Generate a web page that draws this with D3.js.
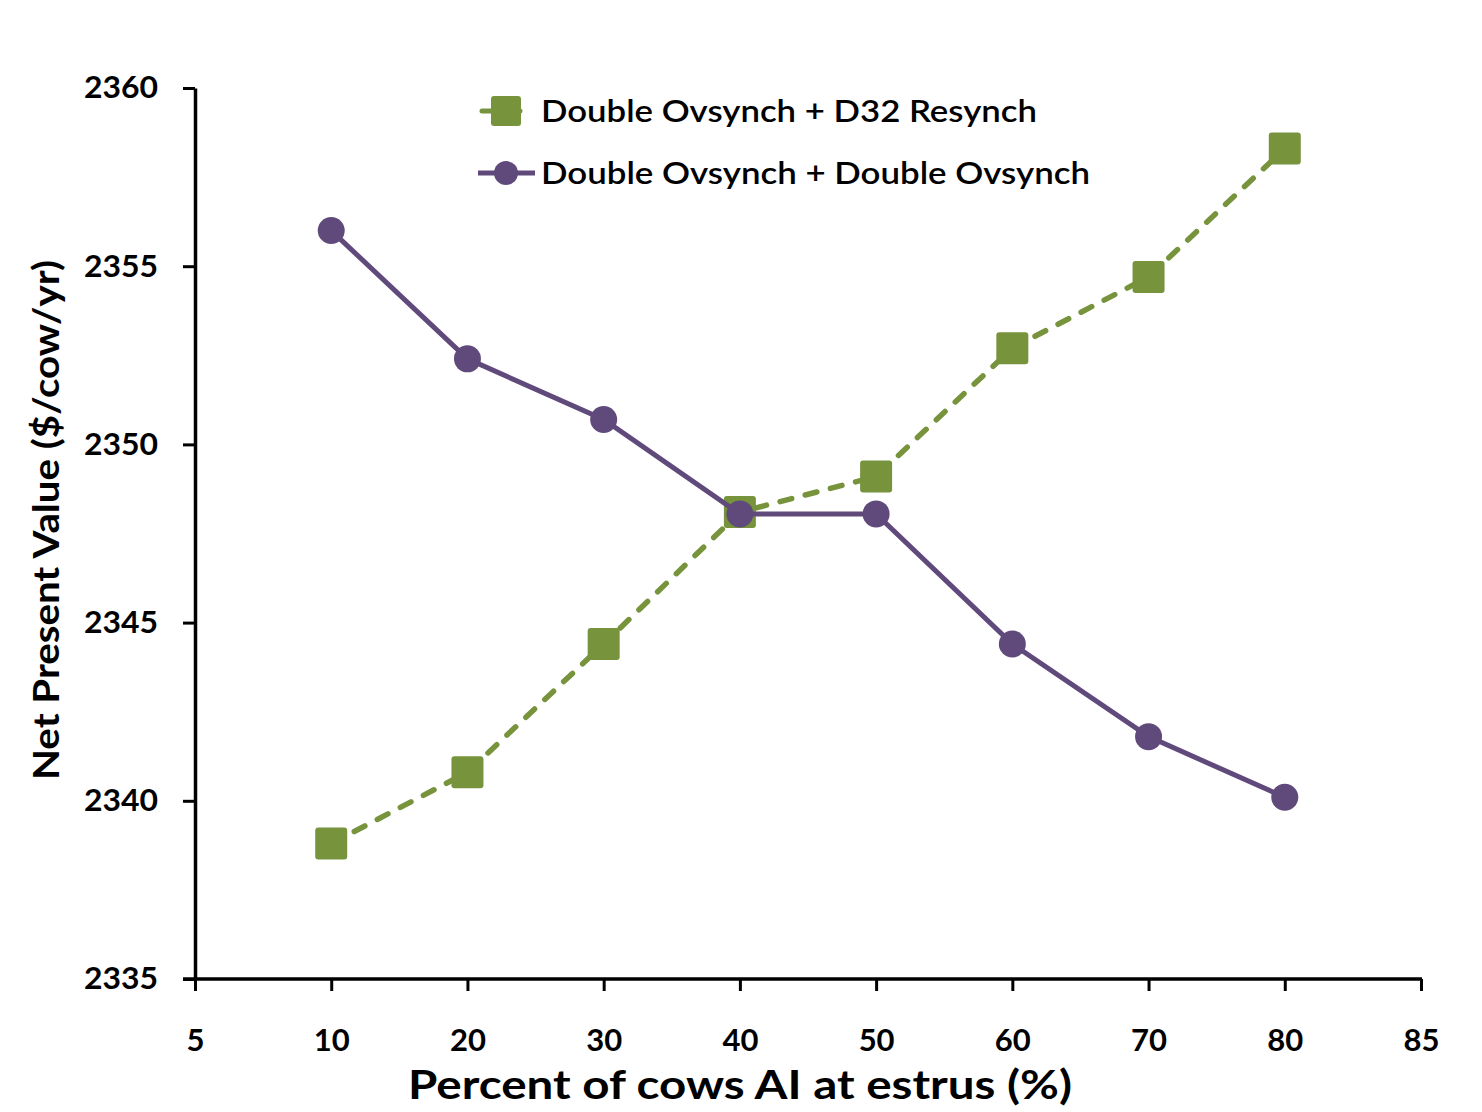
<!DOCTYPE html>
<html>
<head>
<meta charset="utf-8">
<script src="https://cdn.jsdelivr.net/npm/d3@7"></script>
<style>
  html, body { margin: 0; padding: 0; background: #fff; }
  svg { display: block; }
  text { font-family: Lato, "Open Sans", sans-serif; }
</style>
</head>
<body>
<script>
// ---- data ----
const xTickLabels = ["5", "10", "20", "30", "40", "50", "60", "70", "80", "85"];
const categories = ["10", "20", "30", "40", "50", "60", "70", "80"];
const d32Resynch = [2338.8, 2340.8, 2344.4, 2348.1, 2349.1, 2352.7, 2354.7, 2358.3];
const doubleOvsynch = [2356.0, 2352.4, 2350.7, 2348.05, 2348.05, 2344.4, 2341.8, 2340.1];
const yTicks = [2335, 2340, 2345, 2350, 2355, 2360];
const seriesNames = ["Double Ovsynch + D32 Resynch", "Double Ovsynch + Double Ovsynch"];

const W = 1482, H = 1112;
const green = "#77933C", purple = "#604A7B";

const svg = d3.select("body").append("svg").attr("width", W).attr("height", H);
svg.append("rect").attr("width", W).attr("height", H).attr("fill", "#fff");

const x = d3.scalePoint().domain(xTickLabels).range([195, 1421]);
const y = d3.scaleLinear().domain([2335, 2360]).range([979, 88]);

// axes
const yAxis = svg.append("g").attr("transform", "translate(195,0)")
  .call(d3.axisLeft(y).tickValues(yTicks).tickFormat(d3.format("d"))
    .tickSize(12).tickPadding(25).tickSizeOuter(0));
const xAxis = svg.append("g").attr("transform", "translate(0,979)")
  .call(d3.axisBottom(x).tickSize(12).tickPadding(38).tickSizeOuter(0));
[yAxis, xAxis].forEach(g => {
  g.select(".domain").attr("stroke", "#000").attr("stroke-width", 3.5);
  g.selectAll(".tick line").attr("stroke", "#000").attr("stroke-width", 3);
  g.selectAll(".tick text").attr("fill", "#000").attr("font-size", 31)
    .attr("font-weight", 700).style("font-family", "Lato, 'Open Sans', sans-serif");
});
yAxis.selectAll(".tick text").attr("textLength", 74).attr("lengthAdjust", "spacingAndGlyphs");
// extend x domain line to left tick
xAxis.select(".domain").attr("d", `M183,0H1422`);

// axis titles
svg.append("text").attr("x", 740).attr("y", 1099).attr("text-anchor", "middle")
  .attr("font-size", 41).attr("font-weight", 700)
  .attr("textLength", 664).attr("lengthAdjust", "spacingAndGlyphs")
  .text("Percent of cows AI at estrus (%)");
svg.append("text").attr("transform", "translate(59,520) rotate(-90)")
  .attr("text-anchor", "middle").attr("font-size", 36).attr("font-weight", 700)
  .attr("textLength", 520).attr("lengthAdjust", "spacingAndGlyphs")
  .text("Net Present Value ($/cow/yr)");

// series
const gData = categories.map((c, i) => ({ c, v: d32Resynch[i] }));
const pData = categories.map((c, i) => ({ c, v: doubleOvsynch[i] }));
const line = d3.line().x(d => x(d.c)).y(d => y(d.v));

svg.append("path").datum(gData).attr("d", line).attr("fill", "none")
  .attr("stroke", green).attr("stroke-width", 5.5).attr("stroke-dasharray", "12,14")
  .attr("stroke-linecap", "round");
const sq = 32;
svg.selectAll(".sq").data(gData).enter().append("rect")
  .attr("x", d => x(d.c) - sq / 2).attr("y", d => y(d.v) - sq / 2)
  .attr("width", sq).attr("height", sq).attr("rx", 3).attr("fill", green);

svg.append("path").datum(pData).attr("d", line).attr("fill", "none")
  .attr("stroke", purple).attr("stroke-width", 5);
svg.selectAll(".ci").data(pData).enter().append("circle")
  .attr("cx", d => x(d.c)).attr("cy", d => y(d.v)).attr("r", 13.5).attr("fill", purple);

// legend
const lg = svg.append("g");
const ly = [111, 173];
lg.append("line").attr("x1", 480).attr("x2", 534).attr("y1", ly[0]).attr("y2", ly[0])
  .attr("stroke", green).attr("stroke-width", 5).attr("stroke-dasharray", "12,14")
  .attr("stroke-dashoffset", -2).attr("stroke-linecap", "round");
lg.append("rect").attr("x", 491).attr("y", ly[0] - 15).attr("width", 30).attr("height", 30)
  .attr("rx", 3).attr("fill", green);
lg.append("line").attr("x1", 478).attr("x2", 535).attr("y1", ly[1]).attr("y2", ly[1])
  .attr("stroke", purple).attr("stroke-width", 5);
lg.append("circle").attr("cx", 506).attr("cy", ly[1]).attr("r", 12).attr("fill", purple);
const lw = [496, 549];
seriesNames.forEach((n, i) => {
  lg.append("text").attr("x", 541).attr("y", ly[i] + 11).attr("font-size", 31)
    .attr("font-weight", 600).attr("fill", "#000")
    .attr("textLength", lw[i]).attr("lengthAdjust", "spacingAndGlyphs").text(n);
});
</script>
</body>
</html>
